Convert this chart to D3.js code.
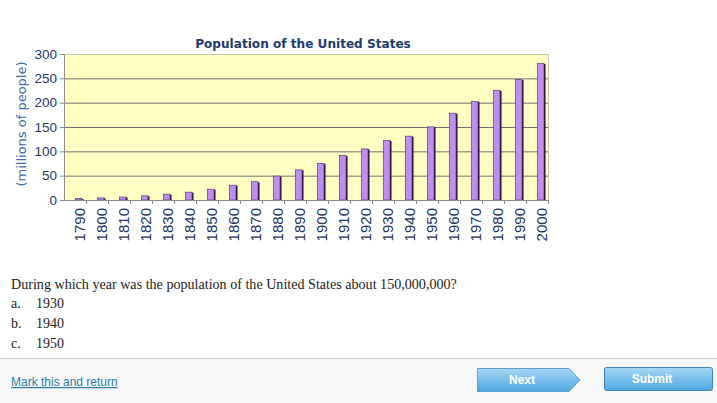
<!DOCTYPE html>
<html><head><meta charset="utf-8">
<script src="https://cdn.jsdelivr.net/npm/d3@7"></script>
<style>
html,body{margin:0;padding:0;background:#fff;overflow:hidden;}
svg{display:block;}
</style></head>
<body>
<svg id="c" width="717" height="403"></svg>
<script>
const years = ["1790","1800","1810","1820","1830","1840","1850","1860","1870","1880","1890","1900","1910","1920","1930","1940","1950","1960","1970","1980","1990","2000"];
const population = [3.9,5.3,7.2,9.6,12.9,17.1,23.2,31.4,38.6,50.2,63.0,76.2,92.2,106.0,123.2,132.2,151.3,179.3,203.3,226.5,248.7,281.4];
const yTicks = [0,50,100,150,200,250,300];
const title = "Population of the United States";
const yLabel = "(millions of people)";
const question = "During which year was the population of the United States about 150,000,000?";
const choiceLetters = ["a.","b.","c."];
const choices = ["1930","1940","1950"];

const svg = d3.select("#c");
const L=64, R=548, T=54, B=200;
const x = d3.scaleBand().domain(years).range([L,R]).padding(0);
const y = d3.scaleLinear().domain([0,300]).range([B,T]);
const bw = x.bandwidth();

// plot background
svg.append("rect").attr("x",L).attr("y",T).attr("width",R-L).attr("height",B-T).attr("fill","#ffffc4");
// gridlines
svg.append("g").selectAll("line").data(yTicks.filter(d=>d>0)).join("line")
  .attr("x1",L).attr("x2",R).attr("y1",d=>y(d)+0.5).attr("y2",d=>y(d)+0.5)
  .attr("stroke",d=>d===300?"#c8c8a8":"#707070").attr("stroke-width",1);
// right border
svg.append("line").attr("x1",R+0.5).attr("x2",R+0.5).attr("y1",T).attr("y2",B).attr("stroke","#c8c8b0");

// bars
const bars = svg.append("g");
bars.selectAll("rect.s").data(years).join("rect").attr("class","s")
  .attr("x",(d)=>x(d)+bw/2+6.5).attr("width",2)
  .attr("y",(d,i)=>y(population[i])+1).attr("height",(d,i)=>B-y(population[i])-1)
  .attr("fill","#1a0f24");
bars.selectAll("rect.b").data(years).join("rect").attr("class","b")
  .attr("x",(d)=>x(d)+bw/2+0.5).attr("width",6.5)
  .attr("y",(d,i)=>y(population[i])+0.5).attr("height",(d,i)=>B-y(population[i])-0.5)
  .attr("fill","#c08ef2").attr("stroke","#5a3a78").attr("stroke-width",0.7);

// axes
const yAxis = svg.append("g").attr("transform",`translate(${L},0)`)
  .call(d3.axisLeft(y).tickValues(yTicks).tickSize(4).tickPadding(3));
yAxis.select(".domain").attr("stroke","#8a8a8a");
yAxis.selectAll(".tick line").attr("stroke","#8a8a8a");
yAxis.selectAll("text").attr("font-family","Liberation Sans, Arial, sans-serif").attr("font-size","13.5px").attr("fill","#22365e");

const xAxis = svg.append("g").attr("transform",`translate(0,${B})`)
  .call(d3.axisBottom(x).tickSize(0).tickPadding(0));
xAxis.select(".domain").attr("stroke","#8a8a8a");
xAxis.selectAll(".tick text")
  .attr("font-family","Liberation Sans, Arial, sans-serif").attr("font-size","15px").attr("fill","#22365e")
  .attr("text-anchor","end").attr("dy","0.36em")
  .attr("transform","translate(4.5,8) rotate(-90)").attr("x",0).attr("y",0);
// boundary tick marks
svg.append("g").selectAll("line").data(years).join("line")
  .attr("x1",d=>x(d)+bw+0.5).attr("x2",d=>x(d)+bw+0.5).attr("y1",B).attr("y2",B+4)
  .attr("stroke","#8a8a8a");

// title
svg.append("text").attr("x",303).attr("y",48).attr("text-anchor","middle")
  .attr("font-family","DejaVu Sans, Verdana, sans-serif").attr("font-weight","bold").attr("font-size","12.1px")
  .attr("fill","#1d3c6e").text(title);
// y label
svg.append("text").attr("transform","translate(26,124) rotate(-90)").attr("text-anchor","middle")
  .attr("font-family","DejaVu Sans, Verdana, sans-serif").attr("font-size","13px")
  .attr("fill","#3a6cae").text(yLabel);

// question
svg.append("text").attr("x",11).attr("y",289).attr("font-family","Liberation Serif, Times New Roman, serif")
  .attr("font-size","14.1px").attr("fill","#222").text(question);
const ch = svg.append("g");
choices.forEach((c,i)=>{
  ch.append("text").attr("x",11).attr("y",308+i*20).attr("font-family","Liberation Serif, serif").attr("font-size","14px").attr("fill","#222").text(choiceLetters[i]);
  ch.append("text").attr("x",36).attr("y",308+i*20).attr("font-family","Liberation Serif, serif").attr("font-size","14px").attr("fill","#222").text(c);
});

// footer
svg.append("rect").attr("x",0).attr("y",358).attr("width",717).attr("height",45).attr("fill","#f7f7f7");
svg.append("line").attr("x1",0).attr("x2",717).attr("y1",358.5).attr("y2",358.5).attr("stroke","#cfcfcf");
svg.append("text").attr("x",11).attr("y",386).attr("font-family","Liberation Sans, Arial, sans-serif")
  .attr("font-size","12px").attr("fill","#2a7ea8").attr("text-decoration","underline").text("Mark this and return");

const defs = svg.append("defs");
const g = defs.append("linearGradient").attr("id","btn").attr("x1",0).attr("y1",0).attr("x2",0).attr("y2",1);
g.append("stop").attr("offset","0%").attr("stop-color","#a6d8f6");
g.append("stop").attr("offset","100%").attr("stop-color","#4fa6e0");
svg.append("path").attr("d","M477.5,368.5 H569 L580,380 L569,391.5 H477.5 Z")
  .attr("fill","url(#btn)").attr("stroke","#5b9fcf");
svg.append("text").attr("x",522).attr("y",384).attr("text-anchor","middle")
  .attr("font-family","Liberation Sans, Arial, sans-serif").attr("font-weight","bold").attr("font-size","12px")
  .attr("fill","#fff").text("Next");
svg.append("rect").attr("x",604.5).attr("y",367.5).attr("width",108).attr("height",23).attr("rx",2)
  .attr("fill","url(#btn)").attr("stroke","#3f83b8");
svg.append("text").attr("x",652).attr("y",383).attr("text-anchor","middle")
  .attr("font-family","Liberation Sans, Arial, sans-serif").attr("font-weight","bold").attr("font-size","12px")
  .attr("fill","#fff").text("Submit");
</script>
</body></html>
